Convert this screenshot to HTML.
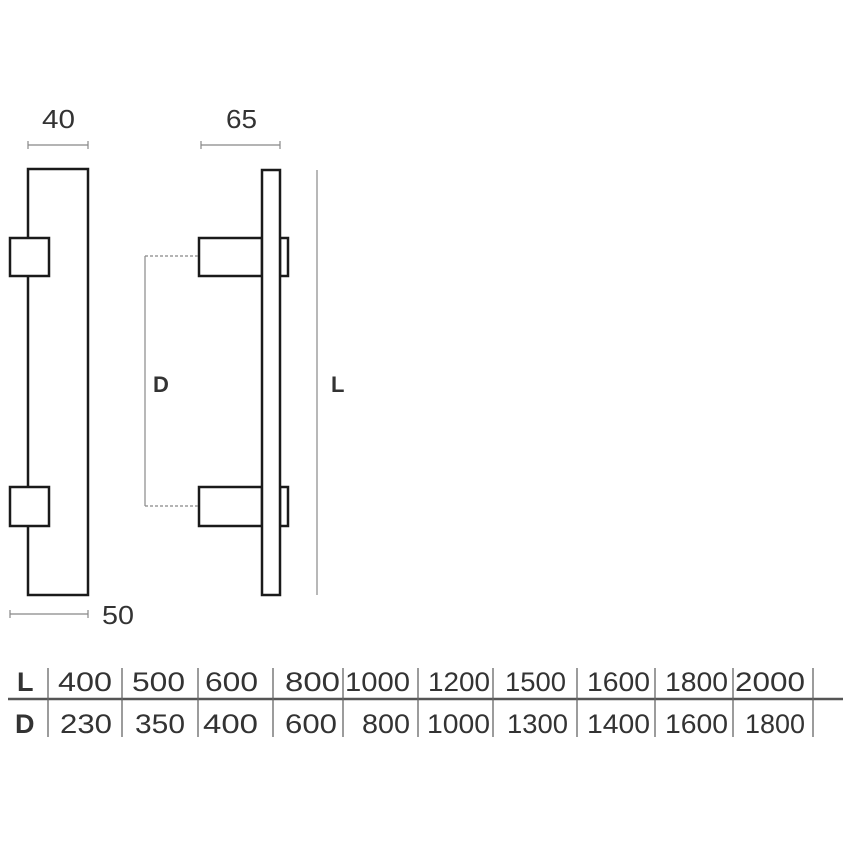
<!DOCTYPE html>
<html><head><style>
html,body{margin:0;padding:0;background:#fff;}
svg{display:block;}
text{font-family:"Liberation Sans",sans-serif;fill:#333;}
</style></head><body>
<svg width="850" height="850" viewBox="0 0 850 850" xmlns="http://www.w3.org/2000/svg">
<g fill="#fff" stroke="#1a1a1a" stroke-width="2.5">
<rect x="28" y="169" width="60" height="426"/>
<rect x="10" y="238" width="39" height="38"/>
<rect x="10" y="487" width="39" height="39"/>
<rect x="199" y="238" width="63" height="38"/>
<rect x="199" y="487" width="63" height="39"/>
<rect x="280" y="238" width="8" height="38"/>
<rect x="280" y="487" width="8" height="39"/>
<rect x="262" y="170" width="18" height="425"/>
</g>
<g stroke="#888" stroke-width="1.2" fill="none">
<line x1="28" y1="145" x2="88" y2="145"/><line x1="28" y1="141" x2="28" y2="149"/><line x1="88" y1="141" x2="88" y2="149"/>
<line x1="201" y1="145" x2="280" y2="145"/><line x1="201" y1="141" x2="201" y2="149"/><line x1="280" y1="141" x2="280" y2="149"/>
<line x1="10" y1="614" x2="88" y2="614"/><line x1="10" y1="610" x2="10" y2="618"/><line x1="88" y1="610" x2="88" y2="618"/>
<line x1="317" y1="170" x2="317" y2="595"/>
<line x1="145" y1="256" x2="145" y2="506"/>
<line x1="145" y1="256" x2="199" y2="256" stroke-dasharray="3,2"/>
<line x1="145" y1="506" x2="199" y2="506" stroke-dasharray="3,2"/>
</g>
<g font-size="26">
<text x="42" y="128" textLength="33" lengthAdjust="spacingAndGlyphs">40</text>
<text x="226" y="128" textLength="31" lengthAdjust="spacingAndGlyphs">65</text>
<text x="102" y="624" textLength="32" lengthAdjust="spacingAndGlyphs">50</text>
</g>
<g font-size="22" font-weight="bold">
<text x="153" y="392">D</text>
<text x="331" y="392">L</text>
</g>
<line x1="8" y1="699" x2="843" y2="699" stroke="#555" stroke-width="2.5"/>
<g stroke="#666" stroke-width="1.3">
<line x1="48" y1="668" x2="48" y2="737"/><line x1="122" y1="668" x2="122" y2="737"/><line x1="198" y1="668" x2="198" y2="737"/><line x1="273" y1="668" x2="273" y2="737"/><line x1="343" y1="668" x2="343" y2="737"/><line x1="418" y1="668" x2="418" y2="737"/><line x1="493" y1="668" x2="493" y2="737"/><line x1="577" y1="668" x2="577" y2="737"/><line x1="655" y1="668" x2="655" y2="737"/><line x1="733" y1="668" x2="733" y2="737"/><line x1="813" y1="668" x2="813" y2="737"/>
</g>
<g font-size="27">
<text x="17" y="691" font-weight="bold">L</text>
<text x="15" y="733" font-weight="bold">D</text>
<text x="58" y="691" textLength="54" lengthAdjust="spacingAndGlyphs">400</text>
<text x="132" y="691" textLength="53" lengthAdjust="spacingAndGlyphs">500</text>
<text x="205" y="691" textLength="53" lengthAdjust="spacingAndGlyphs">600</text>
<text x="285" y="691" textLength="55" lengthAdjust="spacingAndGlyphs">800</text>
<text x="345" y="691" textLength="65" lengthAdjust="spacingAndGlyphs">1000</text>
<text x="428" y="691" textLength="62" lengthAdjust="spacingAndGlyphs">1200</text>
<text x="505" y="691" textLength="61" lengthAdjust="spacingAndGlyphs">1500</text>
<text x="587" y="691" textLength="63" lengthAdjust="spacingAndGlyphs">1600</text>
<text x="665" y="691" textLength="63" lengthAdjust="spacingAndGlyphs">1800</text>
<text x="735" y="691" textLength="70" lengthAdjust="spacingAndGlyphs">2000</text>
<text x="60" y="733" textLength="52" lengthAdjust="spacingAndGlyphs">230</text>
<text x="135" y="733" textLength="50" lengthAdjust="spacingAndGlyphs">350</text>
<text x="203" y="733" textLength="55" lengthAdjust="spacingAndGlyphs">400</text>
<text x="285" y="733" textLength="52" lengthAdjust="spacingAndGlyphs">600</text>
<text x="362" y="733" textLength="48" lengthAdjust="spacingAndGlyphs">800</text>
<text x="427" y="733" textLength="63" lengthAdjust="spacingAndGlyphs">1000</text>
<text x="507" y="733" textLength="61" lengthAdjust="spacingAndGlyphs">1300</text>
<text x="587" y="733" textLength="63" lengthAdjust="spacingAndGlyphs">1400</text>
<text x="665" y="733" textLength="63" lengthAdjust="spacingAndGlyphs">1600</text>
<text x="745" y="733" textLength="60" lengthAdjust="spacingAndGlyphs">1800</text>
</g>
</svg>
</body></html>
